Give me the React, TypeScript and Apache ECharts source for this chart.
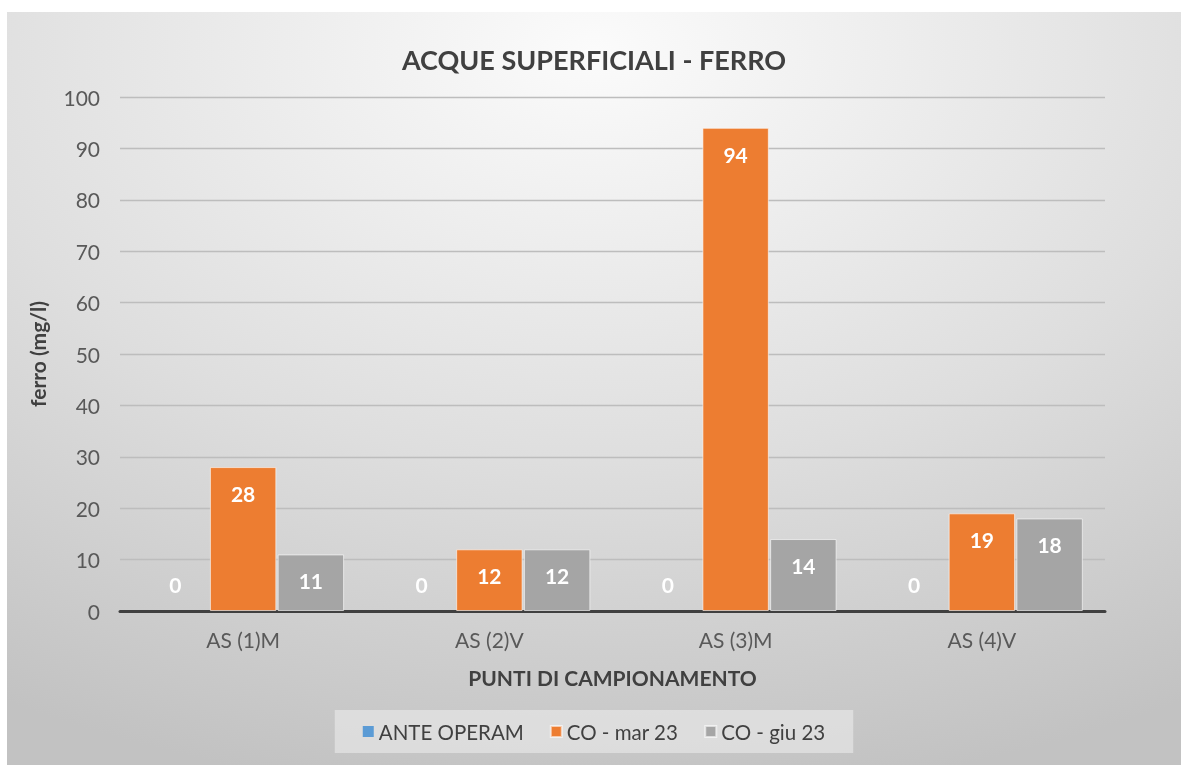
import React, { useEffect, useRef } from "react";
import * as echarts from "echarts";

const categories = ["AS (1)M", "AS (2)V", "AS (3)M", "AS (4)V"];
const seriesNames = ["ANTE OPERAM", "CO - mar 23", "CO - giu 23"];
const anteOperam = [0, 0, 0, 0];
const coMar23 = [28, 12, 94, 19];
const coGiu23 = [11, 12, 14, 18];
const seriesColors = ["#5B9BD5", "#ED7D31", "#A5A5A5"];
const FONT = "Lato, 'Open Sans', sans-serif";

export default function App() {
  const ref = useRef<HTMLDivElement>(null);
  useEffect(() => {
    if (!ref.current) return;
    const chart = echarts.init(ref.current, undefined, { renderer: "svg" });
    const values = [anteOperam, coMar23, coGiu23];
    chart.setOption({
      animation: false,
      backgroundColor: {
        type: "radial",
        x: 0.5,
        y: 0.05,
        r: 1.0,
        colorStops: [
          { offset: 0, color: "#fbfbfb" },
          { offset: 0.55, color: "#dedede" },
          { offset: 1, color: "#c2c2c2" },
        ],
      },
      title: {
        text: "ACQUE SUPERFICIALI - FERRO",
        left: "center",
        top: 29,
        textStyle: { fontFamily: FONT, fontSize: 27, fontWeight: "bold", color: "#404040" },
      },
      legend: {
        data: seriesNames,
        bottom: 12,
        left: "center",
        itemWidth: 11,
        itemHeight: 11,
        itemGap: 26,
        padding: [11, 28, 11, 28],
        backgroundColor: "rgba(235,235,235,0.6)",
        icon: "rect",
        textStyle: { fontFamily: FONT, fontSize: 20.5, color: "#404040" },
      },
      grid: { left: 113, right: 76, top: 85, bottom: 154, containLabel: false },
      xAxis: {
        type: "category",
        data: categories,
        name: "PUNTI DI CAMPIONAMENTO",
        nameLocation: "middle",
        nameGap: 56,
        nameTextStyle: { fontFamily: FONT, fontSize: 21, fontWeight: "bold", color: "#404040" },
        axisLine: { lineStyle: { color: "#404040", width: 3 } },
        axisTick: { show: false },
        axisLabel: { fontFamily: FONT, fontSize: 21, color: "#595959", margin: 18 },
      },
      yAxis: {
        type: "value",
        min: 0,
        max: 100,
        interval: 10,
        name: "ferro (mg/l)",
        nameLocation: "middle",
        nameGap: 72,
        nameTextStyle: { fontFamily: FONT, fontSize: 21, fontWeight: "bold", color: "#404040" },
        axisLine: { show: false },
        axisTick: { show: false },
        axisLabel: { fontFamily: FONT, fontSize: 21, color: "#595959", margin: 20 },
        splitLine: { lineStyle: { color: "#bdbdbd", width: 1.3 } },
      },
      series: seriesNames.map((name, i) => ({
        name,
        type: "bar",
        data: values[i],
        barGap: "2%",
        barCategoryGap: "18%",
        itemStyle: {
          color: seriesColors[i],
          borderColor: i === 0 ? "transparent" : "rgba(255,255,255,0.6)",
          borderWidth: i === 0 ? 0 : 1,
        },
        label: {
          show: true,
          position: i === 0 ? "top" : "insideTop",
          distance: i === 0 ? 16 : 16,
          fontFamily: FONT,
          fontSize: 21,
          fontWeight: "bold",
          color: "#ffffff",
        },
      })),
    });
    return () => chart.dispose();
  }, []);
  return (
    <div
      ref={ref}
      style={{ position: "fixed", left: 7, top: 12, width: 1174, height: 753 }}
    />
  );
}
